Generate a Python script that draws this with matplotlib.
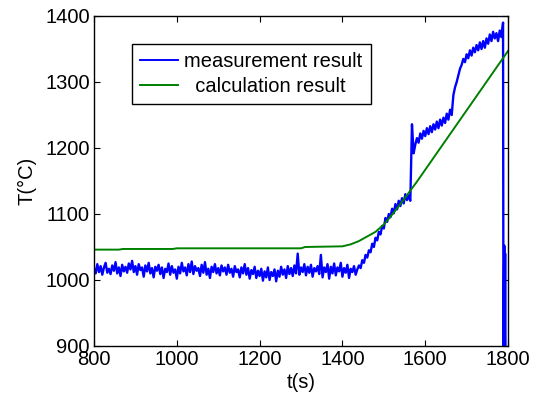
import numpy as np
import matplotlib

matplotlib.use("Agg")
import matplotlib.pyplot as plt

plt.rcParams["font.family"] = ["Liberation Sans", "DejaVu Sans"]

# measurement: sampled every 4 s from 800 s to 1788 s
meas_start, meas_step = 800, 4
meas_base = [
    1018, 1010, 1024, 1012, 1021, 1008, 1019, 1026, 1011, 1017,
    1009, 1022, 1014, 1027, 1010, 1019, 1006, 1023, 1013, 1020,
    1011, 1025, 1016, 1029, 1012, 1021, 1008, 1024, 1015, 1019,
    1005, 1022, 1013, 1026, 1010, 1018, 1004, 1020, 1014, 1023,
    1009, 1019, 1003, 1017, 1012, 1025, 1008, 1021, 1011, 1016,
    1002, 1020, 1010, 1026, 1013, 1019, 1007, 1024, 1012, 1028,
    1009, 1021, 1014, 1018, 1006, 1023, 1011, 1027, 1008, 1017,
    1003, 1020, 1012, 1024, 1010, 1018, 1007, 1022, 1013, 1019,
    1008, 1023, 1011, 1017, 1005, 1021, 1012, 1016, 1004, 1019,
    1010, 1024, 1008, 1018, 1002, 1015, 1009, 1020, 1003, 1014,
    1006, 1017, 999, 1013, 1004, 1019, 1000, 1012, 1006, 1016,
    998, 1014, 1005, 1020, 1008, 1016, 1003, 1021, 1009, 1018,
    1006, 1022, 1010, 1040, 1008, 1019, 1012, 1024, 1007, 1020,
    1011, 1023, 1005, 1018, 1013, 1021, 1009, 1038, 1004, 1019,
    1012, 1024, 1002, 1020, 1010, 1025, 1007, 1019, 1013, 1026,
    1005, 1018, 1011, 1023, 1003, 1017, 1012, 1021, 1008, 1016,
]
meas_rise = [
    1022, 1018, 1030, 1026, 1038, 1034, 1045, 1042, 1055, 1050,
    1064, 1060, 1073, 1069, 1082, 1078, 1094, 1088, 1100, 1095,
    1108, 1101, 1115, 1107, 1120, 1112, 1124, 1116, 1130, 1121,
    1128, 1120, 1236, 1192, 1205, 1215, 1208, 1222, 1214, 1226,
    1218, 1230, 1221, 1233, 1224, 1236, 1228, 1240, 1230, 1243,
    1234, 1246, 1238, 1252, 1243, 1258, 1250, 1280, 1292, 1300,
    1310, 1320, 1326, 1335, 1330, 1342, 1336, 1348, 1340, 1352,
    1345, 1356, 1348, 1360, 1350, 1362, 1352, 1366, 1358, 1372,
    1362, 1376, 1366, 1374, 1362, 1378, 1368, 1390,
]
# sensor failure at the end of the run
tail_t = [1789, 1791, 1792, 1793, 1794]
tail_T = [880, 1052, 880, 1040, 880]

calc_t = [800, 860, 870, 990, 1000, 1300, 1310, 1400, 1420, 1440, 1460, 1480,
          1500, 1520, 1540, 1560, 1580, 1600, 1650, 1700, 1750, 1800]
calc_T = [1046, 1046, 1047, 1047, 1048, 1048, 1050, 1051, 1054, 1059, 1066, 1073,
          1084, 1099, 1115, 1132, 1149, 1167, 1212, 1257, 1302, 1347]

meas_T = meas_base + meas_rise
meas_t = list(meas_start + meas_step * np.arange(len(meas_T))) + tail_t
meas_T = meas_T + tail_T

fig = plt.figure(figsize=(5.36, 3.96), dpi=100)
ax = fig.add_axes([0.1754, 0.1263, 0.7724, 0.8333])

ax.plot(meas_t, meas_T, color="#0000ff", lw=1.7, label="measurement result")
ax.plot(calc_t, calc_T, color="#008000", lw=1.4, label="  calculation result")

ax.set_xlim(800, 1800)
ax.set_ylim(900, 1400)
ax.set_xticks([800, 1000, 1200, 1400, 1600, 1800])
ax.set_yticks([900, 1000, 1100, 1200, 1300, 1400])
ax.tick_params(direction="in", top=True, right=True, length=4, labelsize=14.5, pad=3)
for s in ax.spines.values():
    s.set_linewidth(1.0)

ax.set_xlabel("t(s)", fontsize=14.5, labelpad=3)
ax.set_ylabel("T(\u00b0C)", fontsize=14.5, labelpad=6)

leg = ax.legend(loc="upper left", bbox_to_anchor=(0.092, 0.915), fontsize=14.5,
                fancybox=False, edgecolor="black", framealpha=1, handlelength=1.9,
                borderaxespad=0, borderpad=0.4, labelspacing=0.28, handletextpad=0.3)
leg.get_frame().set_linewidth(1.0)
for line in leg.get_lines():
    line.set_linewidth(1.4)

fig.savefig("out.png", dpi=100)
